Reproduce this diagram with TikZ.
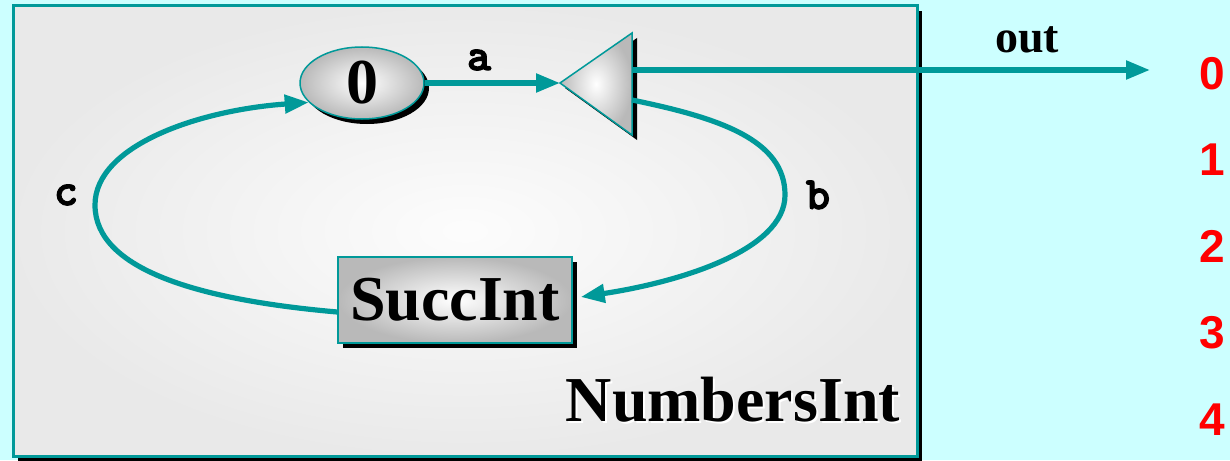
\documentclass[tikz,border=0pt]{standalone}
\usepackage{fontspec}
\setmainfont{Liberation Serif}
\newfontfamily\monobold{lmmonolt10-bold}[Extension=.otf, FakeBold=2.5]
\newfontfamily\sansbold{Liberation Sans}
\usetikzlibrary{shapes.geometric,arrows.meta,shadows,calc}
\definecolor{linkc}{HTML}{009999}
\definecolor{bgc}{HTML}{CCFFFF}
\definecolor{numred}{HTML}{FF0000}
\tikzset{
  link/.style={draw=linkc, line width=5.2pt, -{Triangle[length=24pt,width=18pt]}},
  blob/.style={draw=linkc, line width=1.5pt, inner color=white, outer color=gray!55,
    drop shadow={shadow xshift=5pt, shadow yshift=-5pt, fill=black, opacity=1},
    inner sep=0pt, font=\bfseries\fontsize{64}{64}\selectfont},
  wire/.style={font=\monobold\fontsize{46}{46}\selectfont},
  seq/.style={text=numred, font=\sansbold\bfseries\fontsize{46}{46}\selectfont},
}
\begin{document}
\begin{tikzpicture}[x=1pt,y=-1pt]
\useasboundingbox (0,0) rectangle (1230,460);
\fill[bgc] (0,0) rectangle (1230,460);

% enclosing network box
\node[draw=linkc, line width=3pt, inner color=gray!2, outer color=gray!17,
  minimum width=904pt, minimum height=450pt, inner sep=0pt,
  drop shadow={shadow xshift=5pt, shadow yshift=-5pt, fill=black, opacity=1}]
  (net) at (465,231) {};
\node[font=\bfseries\fontsize{64}{64}\selectfont, text=white] at (735,402) {NumbersInt};
\node[font=\bfseries\fontsize{64}{64}\selectfont] (name) at (733,400) {NumbersInt};

% processes
\node[blob, ellipse, minimum width=124pt, minimum height=72pt] (zero) at (362,83) {0};
\node[blob, rectangle, minimum width=234pt, minimum height=86pt] (succ) at (455,300) {SuccInt};

% delta (split) triangle
\coordinate (tip) at (560,83);
\coordinate (ttop) at (632,33);
\coordinate (tbot) at (632,135);
\fill[black] ($(tip)+(5,5)$) -- ($(ttop)+(5,5)$) -- ($(tbot)+(5,5)$) -- cycle;
\shade[inner color=white, outer color=gray!55] (tip) -- (ttop) -- (tbot) -- cycle;
\draw[linkc, line width=1.5pt, line join=miter] (tip) -- (ttop) -- (tbot) -- cycle;
\coordinate (tout) at (632,70);
\coordinate (tb) at (632,100);
\coordinate (outend) at (1150,70);

% channels
\draw[link] (zero.east) -- (tip);
\draw[link] (tout) -- (outend);
\draw[link] (tb) .. controls (720,118) and (785,140) .. (785,195)
  .. controls (785,250) and (680,282) .. ([xshift=8pt,yshift=3pt]succ.east);
\draw[link] ([yshift=-12pt]succ.west) .. controls (200,300) and (95,270) .. (95,205)
  .. controls (95,145) and (200,110) .. (zero.200);

% channel names
\node[wire] (la) at (479,60) {a};
\node[wire] (lb) at (818,195) {b};
\node[wire] (lc) at (66,195) {c};
\node[font=\bfseries\fontsize{46}{46}\selectfont] (lout) at (1027,40) {out};

% output sequence
\node[seq] (n0) at (1212,74) {0};
\node[seq] (n1) at (1212,160) {1};
\node[seq] (n2) at (1212,246) {2};
\node[seq] (n3) at (1212,333) {3};
\node[seq] (n4) at (1212,420) {4};
\end{tikzpicture}
\end{document}
